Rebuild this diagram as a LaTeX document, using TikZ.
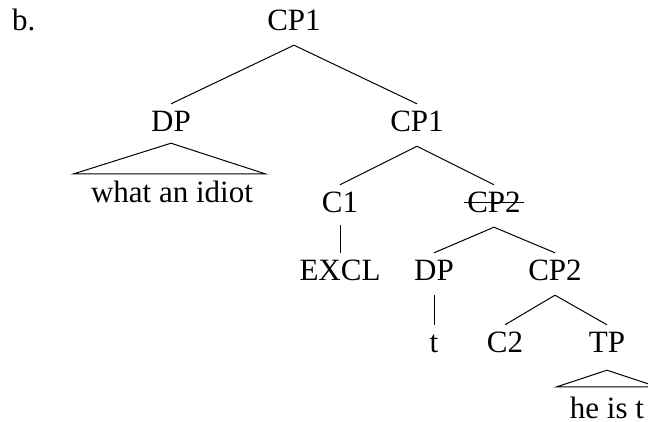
\documentclass[tikz,border=0pt]{standalone}
\usepackage{fontspec}
\setmainfont{Liberation Serif}
\begin{document}
\begin{tikzpicture}[x=1pt,y=-1pt,
  lab/.style={anchor=base,inner xsep=0pt,inner ysep=5pt,text height=22pt,text depth=10pt,font=\fontsize{31}{36}\selectfont},
  branch/.style={line width=1pt}]
\useasboundingbox (0,0) rectangle (648,421);
\node[lab,anchor=base west] (b) at (12,30) {b.};
\node[lab] (cp1) at (294,30) {CP1};
\node[lab] (dp1) at (171,131) {DP};
\node[lab] (cp1b) at (417,131) {CP1};
\node[lab] (wai) at (172,202) {what an idiot};
\node[lab] (c1) at (340,212) {C1};
\node[lab] (cp2s) at (494,212) {CP2};
\node[lab] (excl) at (340,280) {EXCL};
\node[lab] (dp2) at (434,280) {DP};
\node[lab] (cp2) at (555,280) {CP2};
\node[lab] (t) at (434,352) {t};
\node[lab] (c2) at (505,352) {C2};
\node[lab] (tp) at (607,352) {TP};
\node[lab] (hist) at (607,418) {he is t};
\draw[branch] (cp1.south) -- (dp1.north);
\draw[branch] (cp1.south) -- (cp1b.north);
\draw[branch] ([yshift=3pt]dp1.south) -- ([xshift=-17pt,yshift=1pt]wai.north west) -- ([xshift=12pt,yshift=1pt]wai.north east) -- cycle;
\draw[branch] (cp1b.south) -- (c1.north);
\draw[branch] (cp1b.south) -- (cp2s.north);
\draw[branch] ([xshift=-3pt,yshift=10pt]cp2s.base west) -- ([xshift=3pt,yshift=10pt]cp2s.base east);
\draw[branch] ([yshift=2pt]c1.south) -- (excl.north);
\draw[branch] (cp2s.south) -- (dp2.north);
\draw[branch] (cp2s.south) -- (cp2.north);
\draw[branch] (dp2.south) -- (t.north);
\draw[branch] (cp2.south) -- (c2.north);
\draw[branch] (cp2.south) -- (tp.north);
\draw[branch] ([yshift=-3pt]tp.south) -- ([xshift=-13pt,yshift=4pt]hist.north west) -- ([xshift=13pt,yshift=4pt]hist.north east) -- cycle;
\end{tikzpicture}
\end{document}
